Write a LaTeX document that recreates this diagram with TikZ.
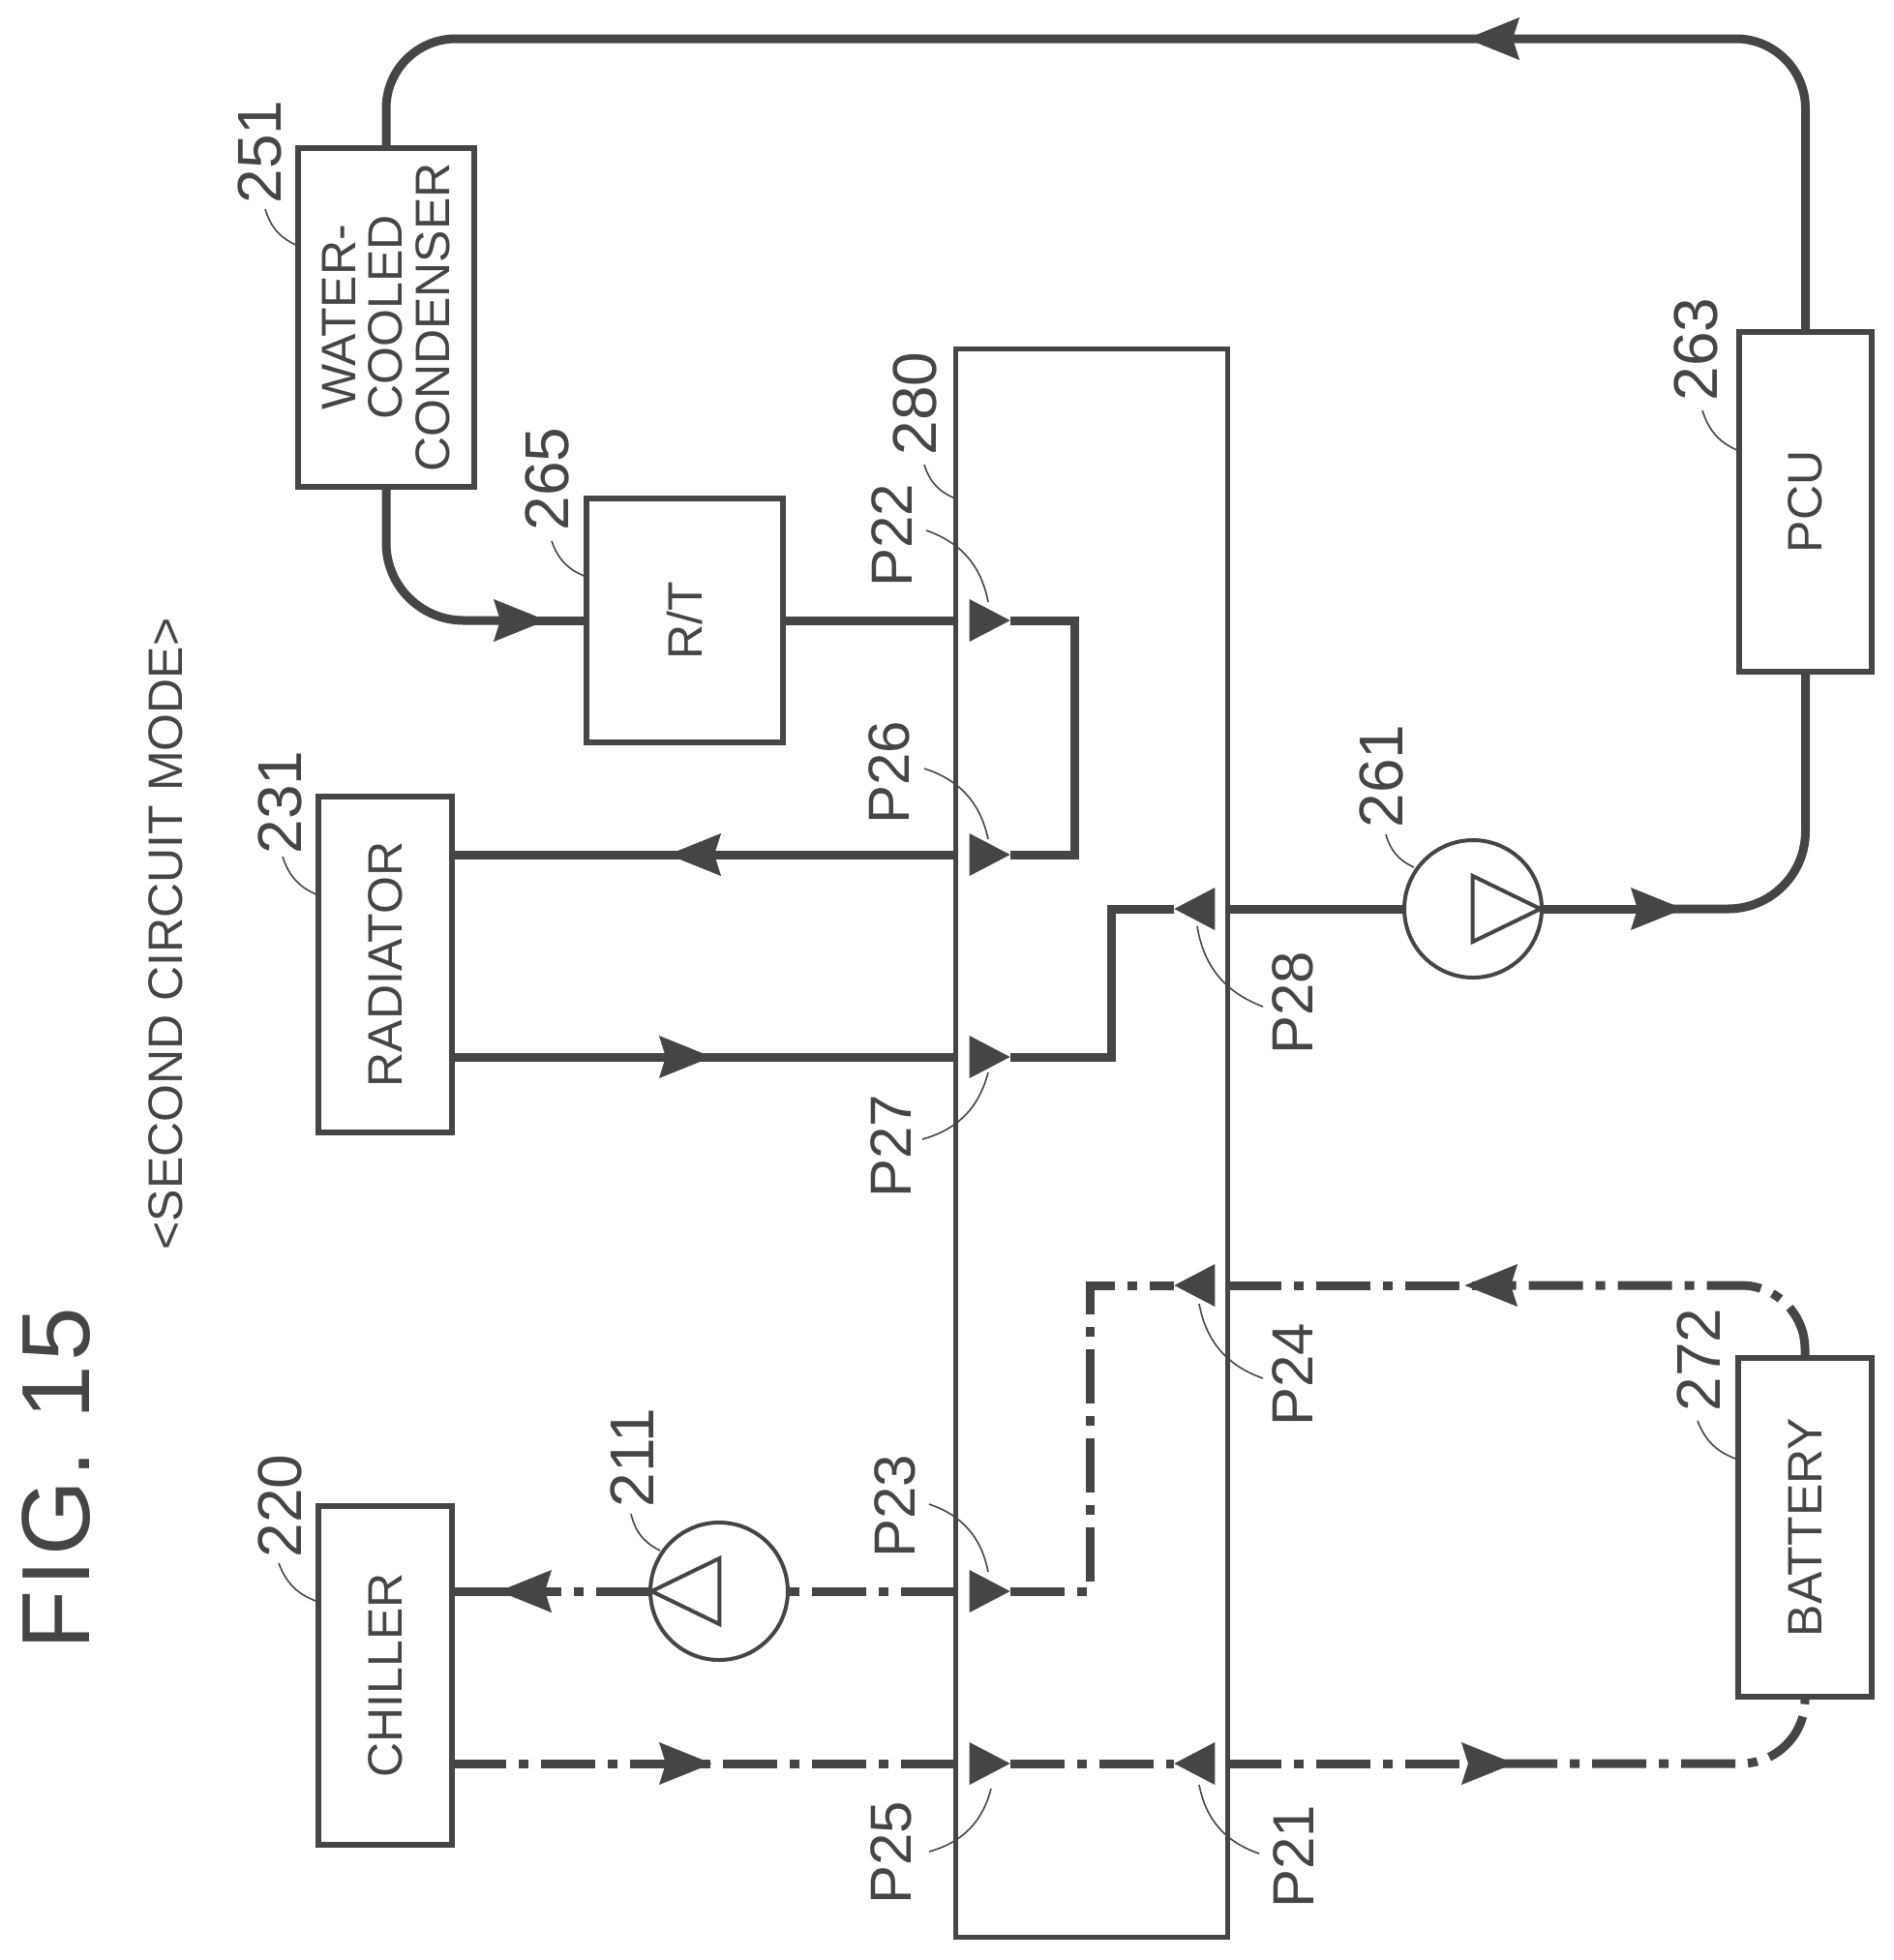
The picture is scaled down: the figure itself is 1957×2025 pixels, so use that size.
\documentclass[tikz,border=0pt]{standalone}
\usepackage{fontspec}
\setmainfont{Liberation Sans}
\usetikzlibrary{arrows.meta,shapes.geometric,calc}
\definecolor{inkgray}{gray}{0.27}
\newcommand{\vtext}[1]{\rotatebox{90}{\shortstack[c]{#1}}}

\begin{document}
\begin{tikzpicture}[x=0.5pt,y=-0.5pt]
		\tikzset{
		    unit/.style={rectangle,draw=inkgray,line width=3pt,inner sep=0pt,outer sep=0pt,text=inkgray,font=\fontsize{25}{25}\selectfont},
		    pump/.style={circle,draw=inkgray,line width=2pt,inner sep=0pt,outer sep=0pt,minimum size=71pt},
		    pumptri/.style={isosceles triangle,isosceles triangle stretches,draw=inkgray,line width=2pt,inner sep=0pt,minimum width=34pt,minimum height=35pt},
		    port/.style={isosceles triangle,isosceles triangle stretches,fill=inkgray,inner sep=0pt,outer sep=0pt,minimum width=22pt,minimum height=21pt},
		    pipe/.style={draw=inkgray,line width=4.5pt},
		    chainpipe/.style={pipe,dash pattern=on 28pt off 6.5pt on 5pt off 6.5pt},
		    flow/.style={-{Stealth[length=27pt,width=21pt,inset=3pt]}},
		    refnum/.style={text=inkgray,inner sep=0pt,font=\fontsize{32}{32}\selectfont},
		    portnum/.style={text=inkgray,inner sep=0pt,font=\fontsize{30}{30}\selectfont},
		    leader/.style={draw=inkgray,line width=0.8pt}
		}
		\useasboundingbox (0,0) rectangle (1957,2025);

		% titles
		\node[inner sep=0pt,text=inkgray,font=\fontsize{50}{50}\selectfont\addfontfeature{LetterSpace=4}] (title) at (58,1528) {\vtext{FIG. 15}};
		\node[inner sep=0pt,text=inkgray,font=\fontsize{25}{25}\selectfont] (mode) at (171,965) {\vtext{<SECOND CIRCUIT MODE>}};

		% units
		\node[unit,minimum width=91pt,minimum height=175pt] (condenser) at (399,328) {\vtext{WATER-\\[3.5pt]COOLED\\[3.5pt]CONDENSER}};
		\node[unit,minimum width=101.5pt,minimum height=126pt] (rt) at (707.5,641) {\vtext{R/T}};
		\node[unit,minimum width=69pt,minimum height=173.5pt] (radiator) at (398,996.5) {\vtext{RADIATOR}};
		\node[unit,minimum width=69pt,minimum height=175pt] (chiller) at (398,1731) {\vtext{CHILLER}};
		\node[unit,minimum width=68.5pt,minimum height=175.5pt] (pcu) at (1865.5,518.5) {\vtext{PCU}};
		\node[unit,minimum width=69pt,minimum height=175pt] (battery) at (1865,1578) {\vtext{BATTERY}};
		\node[unit,line width=2.5pt,minimum width=140.5pt,minimum height=820.5pt] (mainbox) at (1127.5,1180.5) {};

		% pumps
		\node[pump] (pump211) at (743,1644) {};
		\node[pumptri,shape border rotate=180] (tri211) at (722,1644) {};
		\node[pump] (pump261) at (1522,939) {};
		\node[pumptri] (tri261) at (1543,939) {};

		% ports
		\node[port] (p22) at (1015,641) {};
		\node[port] (p26) at (1015,883) {};
		\node[port] (p27) at (1015,1092) {};
		\node[port] (p23) at (1015,1644) {};
		\node[port] (p25) at (1015,1822) {};
		\node[port,shape border rotate=180] (p28) at (1242,939) {};
		\node[port,shape border rotate=180] (p24) at (1242,1328) {};
		\node[port,shape border rotate=180] (p21) at (1242,1822) {};

		% labels
		\node[refnum] (n251) at (268,157) {\vtext{251}};
		\node[refnum] (n265) at (565,495) {\vtext{265}};
		\node[refnum] (n231) at (289,829) {\vtext{231}};
		\node[refnum] (n280) at (945,417) {\vtext{280}};
		\node[refnum] (n220) at (289,1556) {\vtext{220}};
		\node[refnum] (n211) at (653,1506) {\vtext{211}};
		\node[refnum] (n263) at (1752,361) {\vtext{263}};
		\node[refnum] (n261) at (1427,802) {\vtext{261}};
		\node[refnum] (n272) at (1755,1405) {\vtext{272}};
		\node[portnum] (n22) at (922,553) {\vtext{P22}};
		\node[portnum] (n26) at (919,798) {\vtext{P26}};
		\node[portnum] (n27) at (921,1184) {\vtext{P27}};
		\node[portnum] (n23) at (925,1556) {\vtext{P23}};
		\node[portnum] (n25) at (921,1914) {\vtext{P25}};
		\node[portnum] (n28) at (1336,1036) {\vtext{P28}};
		\node[portnum] (n24) at (1336,1420) {\vtext{P24}};
		\node[portnum] (n21) at (1337,1918) {\vtext{P21}};

		% bends and flow arrows
		\coordinate (flowtop) at (1515,40);
		\coordinate (flowrt) at (565,641);
		\coordinate (flow261) at (1740,939);
		\coordinate (flowrad) at (690,883);
		\coordinate (flowradin) at (736,1092);
		\coordinate (flowchill) at (515,1644);
		\coordinate (flowchillin) at (736,1822);
		\coordinate (flowbat) at (1565,1822);
		\coordinate (flowbatout) at (1513,1328);
		\coordinate (jog22) at (1110,641);
		\coordinate (jog27) at (1148,1092);
		\coordinate (jog23) at (1126,1644);

		%solid pipes
		\draw[pipe,flow,rounded corners=36pt] (pcu.north) |- (flowtop);
		\draw[pipe,rounded corners=36pt] ([xshift=6pt]flowtop) -| (condenser.north);
		\draw[pipe,flow,rounded corners=40pt] (condenser.south) |- (flowrt);
		\draw[pipe] ([xshift=-6pt]flowrt) -- (rt.west);
		\draw[pipe] (rt.east) -- (rt.east -| mainbox.west);
		\draw[pipe] (p22) -- (jog22) |- (p26);
		\draw[pipe,flow] (p26 -| mainbox.west) -- (flowrad);
		\draw[pipe] ([xshift=6pt]flowrad) -- (flowrad -| radiator.east);
		\draw[pipe,flow] (flowradin -| radiator.east) -- (flowradin);
		\draw[pipe] ([xshift=-6pt]flowradin) -- (flowradin -| mainbox.west);
		\draw[pipe] (p27) -- (jog27) |- (p28);
		\draw[pipe] (p28 -| mainbox.east) -- (pump261.west);
		\draw[pipe,flow] (pump261.east) -- (flow261);
		\draw[pipe,rounded corners=40pt] ([xshift=-6pt]flow261) -| (pcu.south);

		%chain pipes
		\draw[chainpipe] (p23 -| mainbox.west) -- (pump211.east);
		\draw[chainpipe,flow] (pump211.west) -- (flowchill);
		\draw[pipe] ([xshift=6pt]flowchill) -- (flowchill -| chiller.east);
		\draw[chainpipe,flow] (flowchillin -| chiller.east) -- (flowchillin);
		\draw[chainpipe] (flowchillin -| mainbox.west) -- ([xshift=-6pt]flowchillin);
		\draw[chainpipe] (p25) -- (p21);
		\draw[chainpipe,flow] (p21 -| mainbox.east) -- (flowbat);
		\draw[chainpipe,rounded corners=33pt] ([xshift=-6pt]flowbat) -| (battery.south);
		\draw[chainpipe] (p23) -- (jog23) |- (p24);
		\draw[chainpipe,flow,rounded corners=33pt] (battery.north) |- (flowbatout);
		\draw[chainpipe] (p24 -| mainbox.east) -- ([xshift=6pt]flowbatout);

		%leaders
		\draw[leader] ([shift=({6,59})]n251.center) to[bend right=25] ([shift=({0,101})]condenser.north west);
		\draw[leader] ([shift=({5,64})]n265.center) to[bend right=25] ([shift=({0,81})]rt.north west);
		\draw[leader] ([shift=({3,56})]n231.center) to[bend right=25] ([shift=({0,102})]radiator.north west);
		\draw[leader] ([shift=({10,63})]n280.center) to[bend right=25] ([shift=({0,155})]mainbox.north west);
		\draw[leader] ([shift=({-1,59})]n220.center) to[bend right=25] ([shift=({0,99})]chiller.north west);
		\draw[leader] ([shift=({-1,58})]n211.center) to[bend right=25] ([shift=({-61,-42})]pump211.center);
		\draw[leader] ([shift=({7,63})]n263.center) to[bend right=25] ([shift=({0,123})]pcu.north west);
		\draw[leader] ([shift=({5,60})]n261.center) to[bend right=25] ([shift=({-61,-43})]pump261.center);
		\draw[leader] ([shift=({-1,63})]n272.center) to[bend right=25] ([shift=({0,105})]battery.north west);
		\draw[leader] ([shift=({35,-5})]n22.center) to[bend left=30] ([shift=({6,-19})]p22.center);
		\draw[leader] ([shift=({36,-4})]n26.center) to[bend left=30] ([shift=({6,-16})]p26.center);
		\draw[leader] ([shift=({32,-7})]n27.center) to[bend right=30] ([shift=({6,16})]p27.center);
		\draw[leader] ([shift=({35,-2})]n23.center) to[bend left=30] ([shift=({6,-20})]p23.center);
		\draw[leader] ([shift=({39,-1})]n25.center) to[bend right=30] ([shift=({9,26})]p25.center);
		\draw[leader] ([shift=({-5,18})]p28.center) to[bend right=30] ([shift=({-31,4})]n28.center);
		\draw[leader] ([shift=({-3,19})]p24.center) to[bend right=30] ([shift=({-31,4})]n24.center);
		\draw[leader] ([shift=({-3,22})]p21.center) to[bend right=30] ([shift=({-36,-3})]n21.center);

	\end{tikzpicture}
\end{document}
